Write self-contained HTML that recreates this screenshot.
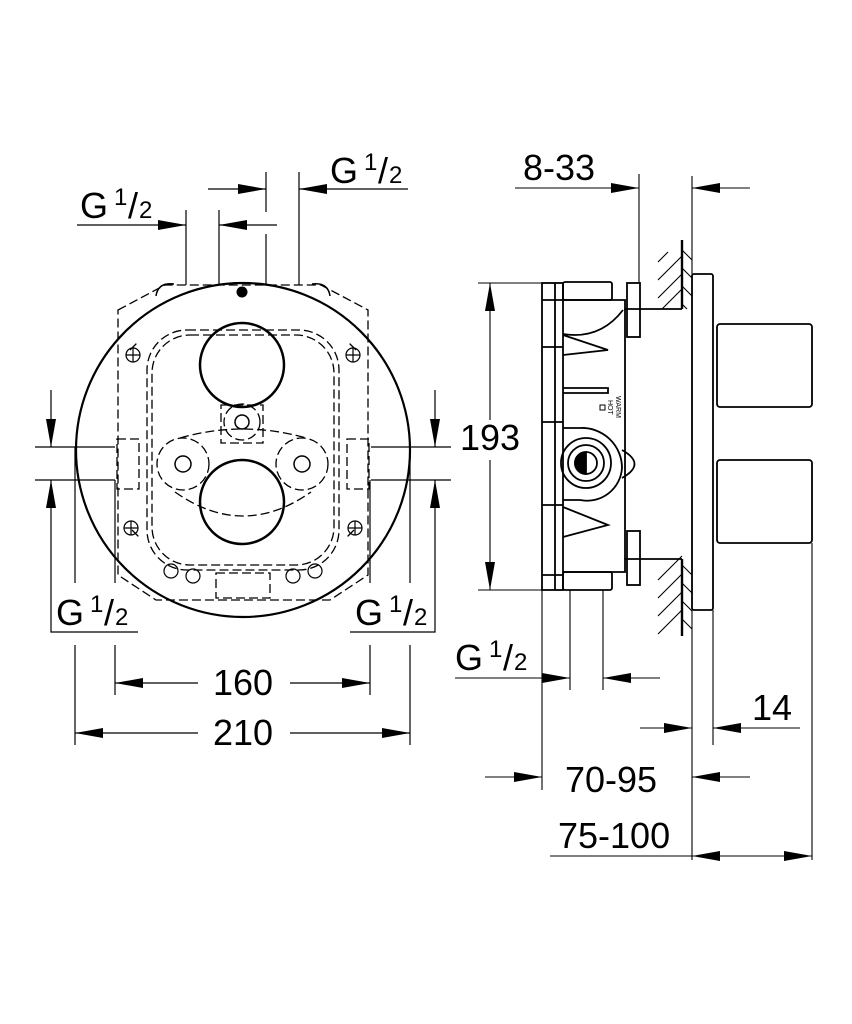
<!DOCTYPE html>
<html><head><meta charset="utf-8"><style>
html,body{margin:0;padding:0;background:#fff}
svg{display:block}
text{font-family:"Liberation Sans",sans-serif;fill:#000}
</style></head><body>
<svg width="852" height="1024" viewBox="0 0 852 1024" xmlns="http://www.w3.org/2000/svg">
<g stroke="#000" fill="none">
<!-- ===== LEFT VIEW ===== -->
<circle cx="243" cy="450" r="167" stroke-width="2.2"/>
<path d="M156 296 q2 -14 18 -12 M330 296 q-2 -14 -18 -12" stroke-width="1.5"/>
<g stroke-width="1.3" stroke-dasharray="9,4">
<path d="M118 310 L165 285 L321 285 L368 310 L368 575 L330 600 L156 600 L118 575 Z"/>
<rect x="147" y="330" width="192" height="240" rx="40"/>
<rect x="152" y="335" width="182" height="230" rx="38"/>
<rect x="117" y="439" width="22" height="50"/>
<rect x="347" y="439" width="22" height="50"/>
<rect x="216" y="573" width="54" height="25"/>
<circle cx="183" cy="464" r="26"/>
<circle cx="302" cy="464" r="26"/>
<circle cx="242" cy="422" r="18"/>
<rect x="221" y="405" width="42" height="38"/>
<path d="M180 438 Q243 420 306 438 M175 492 Q243 540 311 492"/>
<path d="M130 350 l8 -8 M356 350 l-8 -8 M132 530 l8 8 M354 530 l-8 8"/>
</g>
<g stroke-width="1.2">
<circle cx="133" cy="355" r="7"/><circle cx="353" cy="355" r="7"/>
<circle cx="131" cy="528" r="7"/><circle cx="355" cy="528" r="7"/>
<circle cx="171" cy="571" r="7"/><circle cx="315" cy="571" r="7"/>
<circle cx="193" cy="576" r="7"/><circle cx="293" cy="576" r="7"/>
<path d="M126 355h14M133 348v14M346 355h14M353 348v14M124 528h14M131 521v14M348 528h14M355 521v14"/>
</g>
<circle cx="183" cy="464" r="8" stroke-width="1.5"/>
<circle cx="302" cy="464" r="8" stroke-width="1.5"/>
<circle cx="242" cy="422" r="7" stroke-width="1.5"/>
<circle cx="242" cy="365" r="42" stroke-width="2.5"/>
<circle cx="242" cy="502" r="42" stroke-width="2.5"/>
<circle cx="242" cy="292" r="5" fill="#000"/>
<g stroke-width="1.2">
<path d="M186 210V285 M219 210V285 M266 172V212 M266 234V285 M299 172V285"/>
<path d="M208 189H266 M299 189H408 M77 225H186 M219 225H277"/>
<path d="M35 447H115 M35 480H115 M371 447H451 M371 480H451"/>
<path d="M51 390V447 M51 480V632H138 M435 390V447 M435 480V632H350"/>
<path d="M75 447V583 M115 480V583 M75 645V745 M115 645V695"/>
<path d="M410 447V583 M370 480V583 M410 645V745 M370 645V695"/>
<path d="M115 683H370 M75 733H410"/>
</g>
</g>
<g fill="#000">
<path d="M266 189l-28 -5v10z M299 189l28 -5v10z M186 225l-28 -5v10z M219 225l28 -5v10z"/>
<path d="M51 447l-5 -28h10z M51 480l-5 28h10z M435 447l-5 -28h10z M435 480l-5 28h10z"/>
<path d="M115 683l28 -5v10z M370 683l-28 -5v10z M75 733l28 -5v10z M410 733l-28 -5v10z"/>
</g>
<g font-size="36">
<rect x="198" y="662" width="92" height="40" fill="#fff"/>
<text x="243" y="695" text-anchor="middle">160</text>
<rect x="198" y="712" width="92" height="40" fill="#fff"/>
<text x="243" y="745" text-anchor="middle">210</text>
<text x="80" y="218">G</text><text x="114" y="205" font-size="24">1</text><text x="128" y="218">/</text><text x="139" y="218" font-size="24">2</text>
<text x="330" y="183">G</text><text x="364" y="170" font-size="24">1</text><text x="378" y="183">/</text><text x="389" y="183" font-size="24">2</text>
<text x="56" y="625">G</text><text x="90" y="612" font-size="24">1</text><text x="104" y="625">/</text><text x="115" y="625" font-size="24">2</text>
<text x="355" y="625">G</text><text x="389" y="612" font-size="24">1</text><text x="403" y="625">/</text><text x="414" y="625" font-size="24">2</text>
<text x="523" y="180">8-33</text>
<text x="455" y="670">G</text><text x="489" y="657" font-size="24">1</text><text x="503" y="670">/</text><text x="514" y="670" font-size="24">2</text>
<text x="752" y="720">14</text>
<text x="565" y="792">70-95</text>
<text x="558" y="848">75-100</text>
</g>
<!-- ===== RIGHT VIEW ===== -->
<g stroke="#000" fill="none" stroke-width="1.8">
<rect x="542" y="283" width="21" height="307"/>
<path d="M555 283V590 M542 300H563 M542 347H563 M542 422H563 M542 505H563 M542 575H563"/>
<rect x="563" y="282" width="49" height="18" rx="2"/>
<rect x="563" y="572" width="49" height="18" rx="2"/>
<path d="M563 300H625V309H640 M563 572H625V559H640"/>
<path d="M625 309V559"/>
<path d="M640 309H682 M640 559H682"/>
<rect x="627" y="283" width="13" height="54"/>
<rect x="627" y="531" width="13" height="54"/>
<path d="M563 334 Q600 340 623 310 M563 355 l45 -5 -45 -15 M563 507 l45 18 -45 12 M563 388h45v5h-45"/>
<path d="M563 428H580 A40 40 0 0 1 622 468 A35 35 0 0 1 580 500H563"/>
<circle cx="586" cy="463" r="25"/>
<circle cx="586" cy="463" r="18"/>
<circle cx="586" cy="463" r="11"/>
<path d="M586 452A11 11 0 0 0 586 474Z" fill="#000"/>
<path d="M622 450 q25 14 0 28"/>
<rect x="692" y="274" width="21" height="336" rx="2"/>
<rect x="717" y="324" width="95" height="83" rx="3"/>
<rect x="717" y="460" width="95" height="83" rx="3"/>
<path d="M682 240V309 M682 559V636" stroke-width="2.4"/>
</g>
<rect x="600" y="405" width="5" height="5" stroke="#000" fill="none" stroke-width="1"/>
<text x="608" y="400" font-size="7" transform="rotate(90 608 400)">HOT</text>
<text x="616" y="396" font-size="7" transform="rotate(90 616 396)">WARM</text>
<g stroke="#000" stroke-width="1.1" fill="none">
<path d="M658 262l10 -10 M658 280l24 -24 M658 298l24 -24 M662 309l20 -20 M682 250l10 10 M682 268l10 10 M682 286l10 10 M682 304l5 5"/>
<path d="M658 580l24 -24 M658 598l24 -24 M658 616l24 -24 M658 634l24 -24 M682 565l10 10 M682 583l10 10 M682 601l10 10 M682 619l10 10"/>
<path d="M692 176V860 M639 174V283 M812 543V860 M713 610V745"/>
<path d="M478 283H542 M478 590H542 M490 283V590"/>
<path d="M542 590V790 M570 590V690 M603 590V690"/>
<path d="M515 188H639 M692 188H750 M455 678H570 M603 678H660 M640 728H692 M713 728H800 M485 777H542 M692 777H750 M550 856H812"/>
</g>
<rect x="465" y="420" width="60" height="40" fill="#fff"/>
<text x="490" y="450" text-anchor="middle" font-size="36">193</text>
<g fill="#000">
<path d="M639 188l-28 -5v10z M692 188l28 -5v10z M490 283l-5 28h10z M490 590l-5 -28h10z"/>
<path d="M570 678l-28 -5v10z M603 678l28 -5v10z M692 728l-28 -5v10z M713 728l28 -5v10z"/>
<path d="M542 777l-28 -5v10z M692 777l28 -5v10z M692 856l28 -5v10z M812 856l-28 -5v10z"/>
</g>
</svg>
</body></html>
